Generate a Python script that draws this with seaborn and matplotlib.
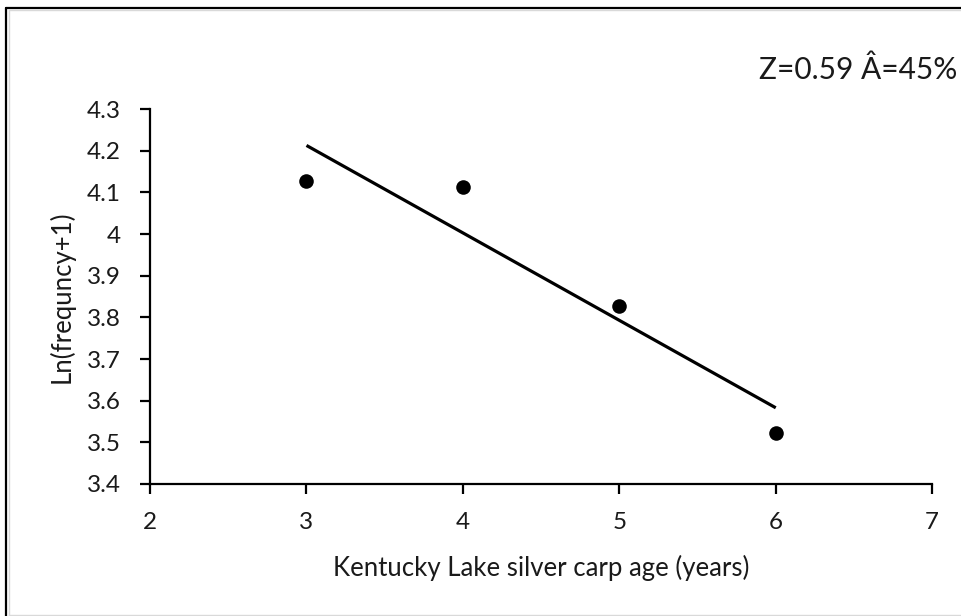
import matplotlib
matplotlib.use("Agg")
import matplotlib.pyplot as plt
from matplotlib.lines import Line2D
import seaborn as sns
import pandas as pd

# Catch-curve data: age vs ln(frequency + 1)
ages = [3, 4, 5, 6]
ln_freq = [4.128, 4.112, 3.828, 3.523]
x_ticks = [2, 3, 4, 5, 6, 7]
y_ticks = [3.4, 3.5, 3.6, 3.7, 3.8, 3.9, 4.0, 4.1, 4.2, 4.3]
y_tick_labels = ["3.4", "3.5", "3.6", "3.7", "3.8", "3.9", "4", "4.1", "4.2", "4.3"]
annotation = "Z=0.59 Â=45%"

sns.set_theme(style="white")
plt.rcParams["font.family"] = ["Lato", "DejaVu Sans"]

df = pd.DataFrame({"age": ages, "lnf": ln_freq})

fig = plt.figure(figsize=(9.62, 6.16), dpi=100)
ax = fig.add_axes([0.156, 0.2143, 0.813, 0.6087])

sns.regplot(data=df, x="age", y="lnf", ax=ax, ci=None, truncate=True,
            color="black",
            scatter_kws=dict(s=110, linewidths=0, alpha=1, zorder=3),
            line_kws=dict(lw=2.3, solid_capstyle="butt"))

ax.set_xlim(2, 7)
ax.set_ylim(3.4, 4.3)
ax.set_xticks(x_ticks)
ax.set_xticklabels([str(v) for v in x_ticks])
ax.set_yticks(y_ticks)
ax.set_yticklabels(y_tick_labels)

for side in ("top", "right"):
    ax.spines[side].set_visible(False)
for side in ("left", "bottom"):
    ax.spines[side].set_color("black")
    ax.spines[side].set_linewidth(1.6)

ax.tick_params(axis="both", bottom=True, left=True, direction="out",
               length=7, width=1.6, colors="black", labelsize=17.5,
               labelcolor="#1a1a1a")
ax.tick_params(axis="x", pad=13)
ax.tick_params(axis="y", pad=14)

ax.set_xlabel("Kentucky Lake silver carp age (years)", fontsize=18.5,
              color="#1a1a1a", labelpad=16)
ax.set_ylabel("Ln(frequncy+1)", fontsize=18.5, color="#1a1a1a", labelpad=9)

fig.text(0.995, 0.886, annotation, ha="right", va="center",
         fontsize=21.5, color="#1a1a1a")

# Outer chart frame
W, H = 962, 616
fig.add_artist(Line2D([5.5 / W, 1], [1 - 7.5 / H, 1 - 7.5 / H],
                      transform=fig.transFigure, color="black", lw=1.6))
fig.add_artist(Line2D([5.5 / W, 5.5 / W], [0, 1 - 7.5 / H],
                      transform=fig.transFigure, color="black", lw=1.6))
fig.add_artist(Line2D([8.5 / W, 1], [1 - 10 / H, 1 - 10 / H],
                      transform=fig.transFigure, color="#d9d9d9", lw=1))
fig.add_artist(Line2D([8.5 / W, 8.5 / W], [0, 1 - 10 / H],
                      transform=fig.transFigure, color="#d9d9d9", lw=1))
fig.add_artist(Line2D([8.5 / W, 1], [1.5 / H, 1.5 / H],
                      transform=fig.transFigure, color="#d9d9d9", lw=1))

fig.savefig("out.png", dpi=100, facecolor="white")
